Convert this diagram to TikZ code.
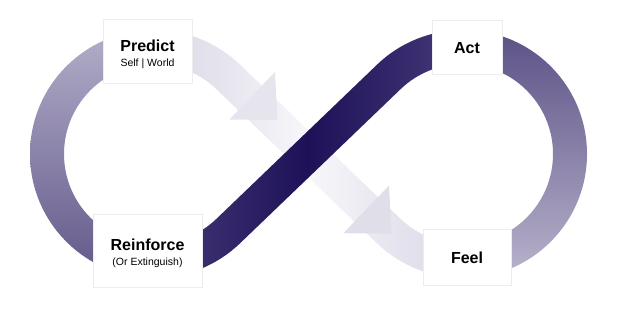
\documentclass[tikz,border=0pt]{standalone}
\usepackage{fontspec}
\setmainfont{Liberation Sans}
\usetikzlibrary{calc}
\definecolor{leftTop}{HTML}{B3AEC9}
\definecolor{leftBot}{HTML}{62588A}
\definecolor{rightTop}{HTML}{5C5186}
\definecolor{rightBot}{HTML}{B8B3CC}
\definecolor{darkEnd}{HTML}{463A79}
\definecolor{darkMid}{HTML}{1E1158}
\definecolor{lightEnd}{HTML}{D8D6E5}
\definecolor{lightMid}{HTML}{F7F7FA}
\definecolor{arrowA}{HTML}{E6E5EE}
\definecolor{arrowB}{HTML}{DFDEE9}
\definecolor{boxLine}{HTML}{EDEDEF}
\begin{document}
\begin{tikzpicture}[x=1pt,y=1pt,
  labelbox/.style={draw=boxLine, line width=0.6pt, fill=white, inner sep=0pt},
  labeltext/.style={inner sep=0pt, align=center},
  arrowhead/.style={draw=none}]
\useasboundingbox (0,0) rectangle (617,309);
\coordinate (CL) at (154,155);
\coordinate (CR) at (463,155);
\coordinate (M) at (308.5,155);
% left loop
\shade[top color=leftTop,bottom color=leftBot]
  ($(CL)+(90:124)$) arc[start angle=90,end angle=270,radius=124]
  -- ++(0,34) arc[start angle=270,end angle=90,radius=90] -- cycle;
% right loop
\shade[top color=rightTop,bottom color=rightBot]
  ($(CR)+(-90:124)$) arc[start angle=-90,end angle=90,radius=124]
  -- ++(0,-34) arc[start angle=90,end angle=-90,radius=90] -- cycle;
% light band
\shade[left color=lightEnd,right color=lightEnd,middle color=lightMid]
  ($(CL)+(90:124)$) arc[start angle=90,end angle=46.17,radius=124]
  -- ($(CR)+(226.17:90)$) arc[start angle=226.17,end angle=270,radius=90]
  -- ++(0,-34) arc[start angle=270,end angle=226.17,radius=124]
  -- ($(CL)+(46.17:90)$) arc[start angle=46.17,end angle=90,radius=90] -- cycle;
% arrowheads
\coordinate (B1) at ($(M)+(136.17:81)+(46.17:3)$);
\coordinate (B2) at ($(M)+(-43.83:80)$);
\fill[arrowA,arrowhead] ($(B1)+(46.17:33)$) -- ($(B1)+(-43.83:35)$) -- ($(B1)+(226.17:33)$) -- cycle;
\fill[arrowB,arrowhead] ($(B2)+(46.17:33)$) -- ($(B2)+(-43.83:35)$) -- ($(B2)+(226.17:33)$) -- cycle;
% dark band
\shade[left color=darkEnd,right color=darkEnd,middle color=darkMid]
  ($(CR)+(90:124)$) arc[start angle=90,end angle=133.83,radius=124]
  -- ($(CL)+(-46.17:90)$) arc[start angle=-46.17,end angle=-90,radius=90]
  -- ++(0,-34) arc[start angle=-90,end angle=-46.17,radius=124]
  -- ($(CR)+(133.83:90)$) arc[start angle=133.83,end angle=90,radius=90] -- cycle;
% label boxes
\node[labelbox, minimum width=89, minimum height=64] (predict) at (147.5,258) {};
\node[labeltext] (predicttext) at ($(predict.center)+(0,-3.5)$)
  {{\fontsize{16}{16}\selectfont\bfseries Predict}\\[3.5pt]{\fontsize{10.5}{12}\selectfont Self | World}};
\node[labelbox, minimum width=70, minimum height=54] (act) at (467,262) {};
\node[labeltext] (acttext) at ($(act.center)+(0,-1)$)
  {\fontsize{16}{16}\selectfont\bfseries Act};
\node[labelbox, minimum width=109, minimum height=73] (reinforce) at (147.5,58.5) {};
\node[labeltext] (reinforcetext) at ($(reinforce.center)+(0,-3)$)
  {{\fontsize{16}{16}\selectfont\bfseries Reinforce}\\[3.5pt]{\fontsize{10.5}{12}\selectfont (Or Extinguish)}};
\node[labelbox, minimum width=88, minimum height=56] (feel) at (467,52) {};
\node[labeltext] (feeltext) at ($(feel.center)+(0,-1)$)
  {\fontsize{16}{16}\selectfont\bfseries Feel};
\end{tikzpicture}
\end{document}
